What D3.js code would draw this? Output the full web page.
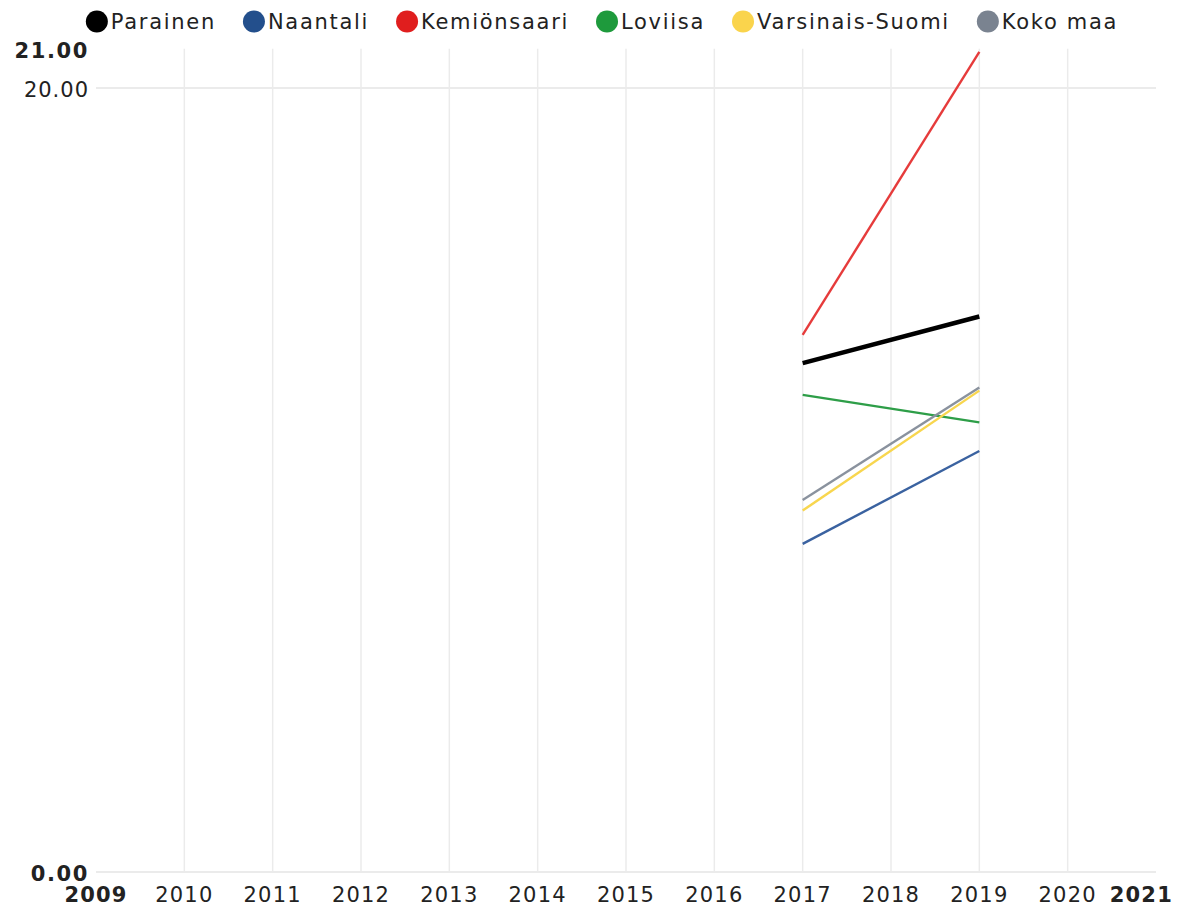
<!DOCTYPE html>
<html>
<head>
<meta charset="utf-8">
<script src="https://cdn.jsdelivr.net/npm/d3@7"></script>
<style>
  body { margin: 0; background: #fff; }
  text { font-family: "DejaVu Sans", sans-serif; fill: #222; }
</style>
</head>
<body>
<div id="chart"></div>
<script>
// data
const years = [2017, 2019]
const series = ['Parainen', 'Naantali', 'Kemiönsaari', 'Loviisa', 'Varsinais-Suomi', 'Koko maa']
const parainen = [12.98, 14.17]
const naantali = [8.37, 10.74]
const kemionsaari = [13.70, 20.92]
const loviisa = [12.17, 11.47]
const varsinaisSuomi = [9.22, 12.28]
const kokoMaa = [9.49, 12.36]
const xTicks = [2009, 2010, 2011, 2012, 2013, 2014, 2015, 2016, 2017, 2018, 2019, 2020, 2021]
const yTicks = [0, 20, 21]

const colors = ['#000000', '#234f8c', '#e01e1e', '#1e9a3c', '#fad44c', '#7a8390']
const lineColors = ['#000000', '#3a62a0', '#e63b3b', '#2e9e48', '#f8d64e', '#8a929e']
const widths = [4.5, 2.4, 2.4, 2.4, 2.4, 2.4]
const values = [parainen, naantali, kemionsaari, loviisa, varsinaisSuomi, kokoMaa]

const w = 1190
const h = 912

const svg = d3.select('#chart')
    .append('svg')
    .attr('width', w)
    .attr('height', h)

const x = d3.scaleLinear().domain([2009, 2021]).range([96, 1156])
const y = d3.scaleLinear().domain([0, 21]).range([872, 48.8])

// vertical grid
svg.append('g')
    .selectAll('line')
    .data(xTicks.slice(1, -1))
    .enter()
    .append('line')
    .attr('x1', d => x(d)).attr('x2', d => x(d))
    .attr('y1', y(21)).attr('y2', y(0))
    .attr('stroke', '#ebebeb')
    .attr('stroke-width', 1.5)

// horizontal grid
svg.append('g')
    .selectAll('line')
    .data([0, 20])
    .enter()
    .append('line')
    .attr('x1', x(2009)).attr('x2', x(2021))
    .attr('y1', d => y(d)).attr('y2', d => y(d))
    .attr('stroke', '#ebebeb')
    .attr('stroke-width', 2)

// y labels
svg.append('g')
    .selectAll('text')
    .data(yTicks)
    .enter()
    .append('text')
    .attr('x', 89)
    .attr('y', d => y(d) + 9)
    .attr('text-anchor', 'end')
    .style('font-size', '21px')
    .style('letter-spacing', d => (d == 0 || d == 21) ? '1.6px' : '1px')
    .style('font-weight', d => (d == 0 || d == 21) ? 'bold' : 'normal')
    .text(d => d3.format('.2f')(d))

// x labels
svg.append('g')
    .selectAll('text')
    .data(xTicks)
    .enter()
    .append('text')
    .attr('x', d => x(d))
    .attr('y', 902)
    .attr('text-anchor', d => d == 2021 ? 'end' : 'middle')
    .attr('dx', d => d == 2021 ? 17 : 0)
    .style('font-size', '21px')
    .style('letter-spacing', '1.2px')
    .style('font-weight', d => (d == 2009 || d == 2021) ? 'bold' : 'normal')
    .text(d => d)

// lines
const line = d3.line().x((d, i) => x(years[i])).y(d => y(d))
svg.append('g')
    .selectAll('path')
    .data(values)
    .enter()
    .append('path')
    .attr('d', d => line(d))
    .attr('fill', 'none')
    .attr('stroke', (d, i) => lineColors[i])
    .attr('stroke-width', (d, i) => widths[i])

// legend
const legend = svg.append('g')
const items = legend.selectAll('g')
    .data(series)
    .enter()
    .append('g')
items.append('circle')
    .attr('r', 11)
    .attr('cx', 11)
    .attr('cy', 21.5)
    .attr('fill', (d, i) => colors[i])
items.append('text')
    .attr('x', 25)
    .attr('y', 29)
    .style('font-size', '21px')
    .style('letter-spacing', '1.7px')
    .text(d => d)

let pos = 0
items.each(function () {
    d3.select(this).attr('transform', 'translate(' + pos + ',0)')
    pos += this.getBBox().width + 27
})
pos -= 27
legend.attr('transform', 'translate(' + (602 - pos / 2) + ',0)')
</script>
</body>
</html>
